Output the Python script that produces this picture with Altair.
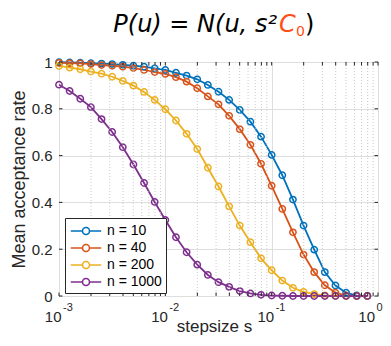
import altair as alt
import pandas as pd

# step sizes (log-spaced grid)
s = [0.001, 0.001259, 0.001585, 0.001995, 0.002512, 0.003162, 0.003981, 0.005012, 0.00631, 0.007943,
     0.01, 0.01259, 0.01585, 0.01995, 0.02512, 0.03162, 0.03981, 0.05012, 0.0631, 0.07943,
     0.1, 0.1259, 0.1585, 0.1995, 0.2512, 0.3162, 0.3981, 0.5012, 0.631, 0.7943]

n10 = [0.999, 0.998, 0.997, 0.995, 0.993, 0.991, 0.988, 0.984, 0.980, 0.973,
       0.966, 0.954, 0.942, 0.926, 0.902, 0.873, 0.838, 0.795, 0.745, 0.681,
       0.603, 0.516, 0.412, 0.301, 0.198, 0.102, 0.045, 0.014, 0.002, 0.0]
n40 = [0.996, 0.995, 0.994, 0.991, 0.987, 0.984, 0.980, 0.974, 0.966, 0.957,
       0.949, 0.935, 0.916, 0.888, 0.853, 0.819, 0.770, 0.713, 0.646, 0.565,
       0.471, 0.372, 0.272, 0.177, 0.102, 0.046, 0.014, 0.002, 0.0, 0.0]
n200 = [0.983, 0.976, 0.969, 0.959, 0.950, 0.937, 0.919, 0.899, 0.872, 0.838,
        0.798, 0.750, 0.693, 0.628, 0.548, 0.468, 0.383, 0.301, 0.230, 0.161,
        0.110, 0.066, 0.035, 0.018, 0.008, 0.003, 0.001, 0.0, 0.0, 0.0]
n1000 = [0.903, 0.876, 0.843, 0.807, 0.756, 0.701, 0.636, 0.562, 0.483, 0.402,
         0.325, 0.251, 0.187, 0.134, 0.090, 0.059, 0.039, 0.021, 0.011, 0.005,
         0.002, 0.001, 0.0, 0.0, 0.0, 0.0, 0.0, 0.0, 0.0, 0.0]

series_labels = ["n = 10", "n = 40", "n = 200", "n = 1000"]
series_colors = ["#0072BD", "#D95319", "#EDB120", "#7E2F8E"]

major_x = [0.001, 0.01, 0.1, 1]
major_base = ["10", "10", "10", "10"]
major_exp = ["-3", "-2", "-1", "0"]
minor_x = [0.002, 0.003, 0.004, 0.005, 0.006, 0.007, 0.008, 0.009,
           0.02, 0.03, 0.04, 0.05, 0.06, 0.07, 0.08, 0.09,
           0.2, 0.3, 0.4, 0.5, 0.6, 0.7, 0.8, 0.9]
y_ticks = [0, 0.2, 0.4, 0.6, 0.8, 1]

title_main = "P(u) = N(u, s\u00b2"
title_c = "C"
title_sub = "0"
title_close = ")"

rows = []
for lab, vals in zip(series_labels, [n10, n40, n200, n1000]):
    for sv, v in zip(s, vals):
        rows.append({"s": sv, "rate": v, "series": lab})
df = pd.DataFrame(rows)

W, H = 319, 234
FONT = "Liberation Sans"
AX = "#262626"

xscale = alt.Scale(type="log", domain=[0.001, 1], nice=False)
yscale = alt.Scale(domain=[0, 1], nice=False, zero=False)

lines = alt.Chart(df).mark_line(
    point=alt.OverlayMarkDef(filled=False, fill="white", fillOpacity=0, size=40, strokeWidth=1.5),
    strokeWidth=1.8,
).encode(
    x=alt.X("s:Q", scale=xscale, title="stepsize s",
            axis=alt.Axis(values=major_x, labels=False, grid=True, ticks=False,
                          domain=False, titlePadding=22, titleFontSize=17,
                          titleX=155, titleAlign="center")),
    y=alt.Y("rate:Q", scale=yscale, title="Mean acceptance rate",
            axis=alt.Axis(values=y_ticks, grid=True, ticks=False, domain=False,
                          labelPadding=7, titlePadding=3, format="~g")),
    color=alt.Color("series:N", sort=series_labels,
                    scale=alt.Scale(domain=series_labels, range=series_colors),
                    legend=alt.Legend(title=None, orient="none", legendX=6, legendY=156,
                                      symbolType="M-1.9,0L-0.44,0M0.44,0L1.9,0M0.44,0A0.44,0.44 0 1 1 -0.44,0A0.44,0.44 0 1 1 0.44,0",
                                      symbolSize=256, symbolStrokeWidth=1.6,
                                      symbolFillColor="white", symbolOffset=8,
                                      labelFont=FONT, labelFontSize=14, labelColor="black",
                                      strokeColor=AX, fillColor="white",
                                      padding=4, rowPadding=1, labelOffset=12)),
    detail="series:N",
)

minor_grid = alt.Chart(pd.DataFrame({"x": minor_x})).mark_rule(
    color="#bdbdbd", strokeDash=[1, 2], strokeWidth=0.8
).encode(x=alt.X("x:Q", scale=xscale), y=alt.value(0), y2=alt.value(H))

xt = pd.DataFrame({"x": major_x + minor_x})
yt = pd.DataFrame({"y": y_ticks})
TL = 3.5
tick_b = alt.Chart(xt).mark_rule(color=AX).encode(
    x=alt.X("x:Q", scale=xscale), y=alt.value(H), y2=alt.value(H - TL))
tick_t = alt.Chart(xt).mark_rule(color=AX).encode(
    x=alt.X("x:Q", scale=xscale), y=alt.value(0), y2=alt.value(TL))
tick_l = alt.Chart(yt).mark_rule(color=AX).encode(
    y=alt.Y("y:Q", scale=yscale), x=alt.value(0), x2=alt.value(TL))
tick_r = alt.Chart(yt).mark_rule(color=AX).encode(
    y=alt.Y("y:Q", scale=yscale), x=alt.value(W), x2=alt.value(W - TL))

lab_df = pd.DataFrame({"x": major_x, "base": major_base, "exp": major_exp})
inner = alt.datum.x < 0.5
outer = alt.datum.x >= 0.5
lab_base = alt.Chart(lab_df).mark_text(
    font=FONT, fontSize=15, align="right", baseline="alphabetic", color=AX, dx=2.5
).encode(x=alt.X("x:Q", scale=xscale), y=alt.value(H + 26), text="base:N").transform_filter(inner)
lab_exp = alt.Chart(lab_df).mark_text(
    font=FONT, fontSize=11, align="left", baseline="alphabetic", color=AX, dx=4
).encode(x=alt.X("x:Q", scale=xscale), y=alt.value(H + 15), text="exp:N").transform_filter(inner)
lab_base_last = alt.Chart(lab_df).mark_text(
    font=FONT, fontSize=15, align="right", baseline="alphabetic", color=AX, dx=-3
).encode(x=alt.X("x:Q", scale=xscale), y=alt.value(H + 26), text="base:N").transform_filter(outer)
lab_exp_last = alt.Chart(lab_df).mark_text(
    font=FONT, fontSize=11, align="left", baseline="alphabetic", color=AX, dx=-1.5
).encode(x=alt.X("x:Q", scale=xscale), y=alt.value(H + 15), text="exp:N").transform_filter(outer)

one = pd.DataFrame({"a": [0]})
t_main = alt.Chart(one).mark_text(
    text=title_main, font="DejaVu Sans", fontStyle="italic", fontSize=24,
    align="right", baseline="alphabetic", color="black"
).encode(x=alt.value(218), y=alt.value(-30))
t_c = alt.Chart(one).mark_text(
    text=title_c, font="DejaVu Sans", fontStyle="italic", fontSize=24,
    align="left", baseline="alphabetic", color="#FF4F14"
).encode(x=alt.value(220), y=alt.value(-30))
t_sub = alt.Chart(one).mark_text(
    text=title_sub, font="DejaVu Sans", fontSize=14,
    align="left", baseline="alphabetic", color="#FF4F14"
).encode(x=alt.value(237), y=alt.value(-26))
t_close = alt.Chart(one).mark_text(
    text=title_close, font="DejaVu Sans", fontSize=24,
    align="left", baseline="alphabetic", color="black"
).encode(x=alt.value(246), y=alt.value(-30))

chart = alt.layer(
    lines, minor_grid, tick_b, tick_t, tick_l, tick_r,
    lab_base, lab_exp, lab_base_last, lab_exp_last,
    t_main, t_c, t_sub, t_close
).properties(
    width=W, height=H,
    autosize=alt.AutoSizeParams(type="none"),
    padding={"left": 51, "top": 54, "right": 5, "bottom": 42},
    background="white",
).configure_view(
    stroke=AX, strokeWidth=1
).configure_axis(
    labelFont=FONT, labelFontSize=15, labelColor=AX,
    titleFont=FONT, titleFontSize=18, titleColor=AX, titleFontWeight="normal",
    gridColor="#dedede", gridOpacity=1, gridWidth=1,
)

chart.save("out.html", embed_options={"renderer": "svg", "actions": False})
